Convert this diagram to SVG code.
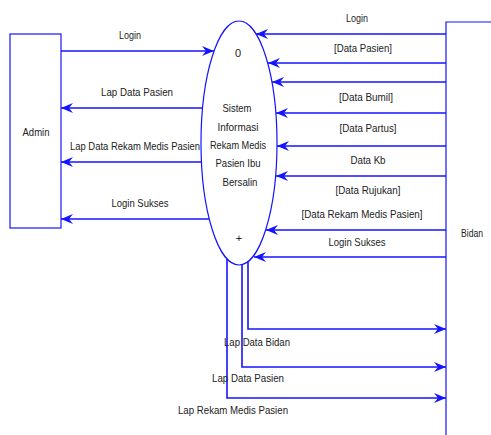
<svg xmlns="http://www.w3.org/2000/svg" width="491" height="435" viewBox="0 0 491 435">
<style>
text{font-family:"Liberation Sans",Arial,sans-serif;font-size:11px;fill:#222;text-anchor:middle}
.s{fill:#fff;stroke:#1414ff;stroke-width:1.2}
.o{fill:none;stroke:#1414ff;stroke-width:1.2}
.f{fill:none;stroke:#1414ff;stroke-width:1.6}
</style>
<defs>
<marker id="a" markerUnits="userSpaceOnUse" markerWidth="14" markerHeight="10" refX="12" refY="5" orient="auto">
<path d="M0,0 L12,5 L0,10 L4,5 z" fill="#1414ff"/>
</marker>
</defs>
<rect width="491" height="435" fill="#fff"/>
<g id="connectors">
<path class="f" d="M61,51 H214" marker-end="url(#a)"/>
<path class="f" d="M202,108 H61" marker-end="url(#a)"/>
<path class="f" d="M202,162 H61" marker-end="url(#a)"/>
<path class="f" d="M209,219 H61" marker-end="url(#a)"/>
<path class="f" d="M446,34 H256" marker-end="url(#a)"/>
<path class="f" d="M446,63 H268" marker-end="url(#a)"/>
<path class="f" d="M446,82 H272" marker-end="url(#a)"/>
<path class="f" d="M446,113 H276" marker-end="url(#a)"/>
<path class="f" d="M446,146 H277" marker-end="url(#a)"/>
<path class="f" d="M446,176 H276" marker-end="url(#a)"/>
<path class="f" d="M446,230 H266" marker-end="url(#a)"/>
<path class="f" d="M446,257 H254" marker-end="url(#a)"/>
<path class="f" d="M248,261 V329 H446" marker-end="url(#a)"/>
<path class="f" d="M242,264 V367 H446" marker-end="url(#a)"/>
<path class="f" d="M227,259 V398 H446" marker-end="url(#a)"/>
</g>
<g id="labels">
<text x="130" y="39" textLength="22" lengthAdjust="spacingAndGlyphs">Login</text>
<text x="137" y="96" textLength="72" lengthAdjust="spacingAndGlyphs">Lap Data Pasien</text>
<text x="135" y="150" textLength="130" lengthAdjust="spacingAndGlyphs">Lap Data Rekam Medis Pasien</text>
<text x="140" y="207" textLength="57" lengthAdjust="spacingAndGlyphs">Login Sukses</text>
<text x="357" y="22" textLength="22" lengthAdjust="spacingAndGlyphs">Login</text>
<text x="363" y="52" textLength="58" lengthAdjust="spacingAndGlyphs">[Data Pasien]</text>
<text x="366" y="101" textLength="54" lengthAdjust="spacingAndGlyphs">[Data Bumil]</text>
<text x="368" y="132" textLength="57" lengthAdjust="spacingAndGlyphs">[Data Partus]</text>
<text x="368" y="164" textLength="35" lengthAdjust="spacingAndGlyphs">Data Kb</text>
<text x="368" y="194" textLength="65" lengthAdjust="spacingAndGlyphs">[Data Rujukan]</text>
<text x="362" y="218" textLength="121" lengthAdjust="spacingAndGlyphs">[Data Rekam Medis Pasien]</text>
<text x="357" y="246" textLength="57" lengthAdjust="spacingAndGlyphs">Login Sukses</text>
<text x="257" y="346" textLength="66" lengthAdjust="spacingAndGlyphs">Lap Data Bidan</text>
<text x="248" y="382" textLength="72" lengthAdjust="spacingAndGlyphs">Lap Data Pasien</text>
<text x="233" y="414" textLength="110" lengthAdjust="spacingAndGlyphs">Lap Rekam Medis Pasien</text>
</g>
<g id="admin">
<rect class="o" x="10" y="34" width="51" height="194"/>
<text x="36" y="136" textLength="27" lengthAdjust="spacingAndGlyphs">Admin</text>
</g>
<g id="process">
<ellipse class="s" cx="239" cy="143" rx="38" ry="122"/>
<text x="238" y="57">0</text>
<text x="237" y="112" textLength="29" lengthAdjust="spacingAndGlyphs">Sistem</text>
<text x="238" y="131" textLength="41" lengthAdjust="spacingAndGlyphs">Informasi</text>
<text x="238" y="149" textLength="56" lengthAdjust="spacingAndGlyphs">Rekam Medis</text>
<text x="238" y="167" textLength="45" lengthAdjust="spacingAndGlyphs">Pasien Ibu</text>
<text x="240" y="186" textLength="35" lengthAdjust="spacingAndGlyphs">Bersalin</text>
<text x="239" y="242" font-size="13" font-weight="300">+</text>
</g>
<g id="bidan">
<path class="o" d="M491,22 H446 V435"/>
<text x="472" y="237" textLength="22" lengthAdjust="spacingAndGlyphs">Bidan</text>
</g>
</svg>
